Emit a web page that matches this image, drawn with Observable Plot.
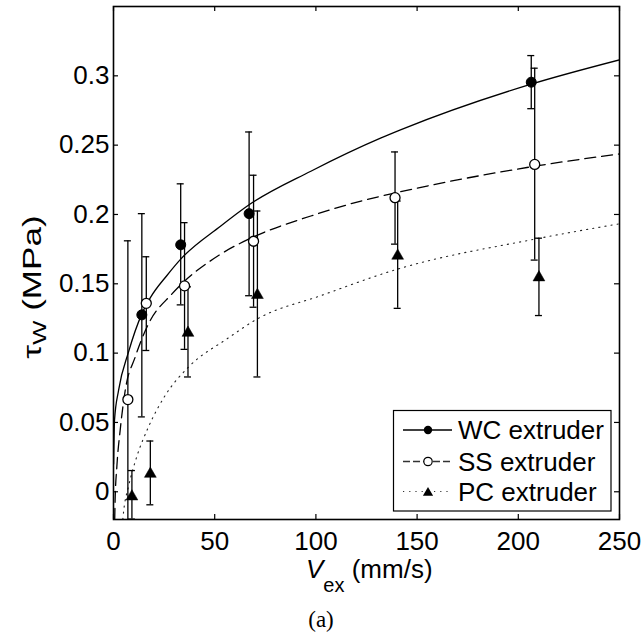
<!DOCTYPE html>
<html>
<head>
<meta charset="utf-8">
<script src="https://cdn.jsdelivr.net/npm/d3@7"></script>
<script src="https://cdn.jsdelivr.net/npm/@observablehq/plot@0.6"></script>
<style>
  html, body { margin: 0; padding: 0; background: #fff; }
  #chart { width: 642px; }
  #caption { width: 642px; height: 35px; line-height: 35px; text-align: center;
    font-family: "Liberation Serif", "DejaVu Serif", serif; font-size: 23px; color: #000; }
</style>
</head>
<body>
<div id="chart"></div>
<div id="caption">(a)</div>
<script>
// ---- data ----
const seriesNames = ["WC extruder", "SS extruder", "PC extruder"];

const wcV    = [14.0, 33.2, 67.0, 206.4];
const wcTau  = [0.1276, 0.1781, 0.2006, 0.2954];
const wcLow  = [0.0540, 0.1348, 0.1414, 0.2763];
const wcHigh = [0.2006, 0.2221, 0.2595, 0.3146];

const ssV    = [7.1, 16.2, 35.1, 69.2, 139.1, 208.1];
const ssTau  = [0.0665, 0.1359, 0.1485, 0.1807, 0.2121, 0.2361];
const ssLow  = [-0.048, 0.1019, 0.1027, 0.1331, 0.1786, 0.1671];
const ssHigh = [0.1810, 0.1695, 0.1941, 0.2283, 0.2451, 0.3055];

const pcV    = [9.1, 18.2, 36.8, 71.1, 140.4, 210.2];
const pcTau  = [-0.0022, 0.0141, 0.1158, 0.1431, 0.1714, 0.1558];
const pcLow  = [-0.0197, -0.0094, 0.0828, 0.0828, 0.1323, 0.1271];
const pcHigh = [0.0153, 0.0366, 0.1478, 0.2025, 0.2097, 0.1829];

// fitted curves, points
const wcFitV   = [0.05, 0.5, 2.5, 7.4, 14.0, 18.3, 26.4, 33.2, 53.0, 67.0, 97.5, 132.2, 142.1, 206.4, 250];
const wcFitTau = [0.020, 0.0517, 0.0732, 0.1007, 0.1283, 0.1402, 0.156, 0.1678, 0.1917, 0.207, 0.2312, 0.2552, 0.2612, 0.294, 0.3115];

const ssFitV   = [0.6, 0.8, 1.65, 3.3, 5.8, 10.7, 17.3, 28.9, 53.0, 69.2, 97.5, 122.3, 139.1, 208.1, 250];
const ssFitTau = [-0.020, -0.006, 0.018, 0.0445, 0.0732, 0.0971, 0.1211, 0.1427, 0.1714, 0.1838, 0.1989, 0.2097, 0.2155, 0.2348, 0.2437];

const pcFitV   = [4.6, 5.0, 7.4, 11.5, 17.3, 25.6, 37.1, 56.1, 71.1, 102.5, 140.4, 208.1, 250];
const pcFitTau = [-0.020, -0.0142, 0.0037, 0.0253, 0.0468, 0.0696, 0.090, 0.1103, 0.1247, 0.1415, 0.1606, 0.1822, 0.1933];

const xTicks = [0, 50, 100, 150, 200, 250];
const yTicks = [0, 0.05, 0.1, 0.15, 0.2, 0.25, 0.3];
const xDomain = [0, 250];
const yDomain = [-0.02, 0.35];

// ---- tables ----
const pts = (V, T, L, H) => V.map((v, i) => ({v, tau: T[i], lo: L[i], hi: H[i]}));
const wc = pts(wcV, wcTau, wcLow, wcHigh);
const ss = pts(ssV, ssTau, ssLow, ssHigh);
const pc = pts(pcV, pcTau, pcLow, pcHigh);
const fit = (V, T) => V.map((v, i) => ({v, tau: T[i]}));
const wcFit = fit(wcFitV, wcFitTau);
const ssFit = fit(ssFitV, ssFitTau);
const pcFit = fit(pcFitV, pcFitTau);

const W = 642, H = 602;
const mT = 6, mL = 113, mR = 23, mB = 83;
const innerW = W - mL - mR, innerH = H - mT - mB;
const FONT = "'Liberation Sans', Arial, Helvetica, sans-serif";
const SW = 1.3;
const DASH = "11,6", DOT = "1.2,5";

const errMarks = (data) => [
  Plot.ruleX(data, {x: "v", y1: "lo", y2: "hi", stroke: "black", strokeWidth: SW, clip: true}),
  Plot.ruleY(data, {y: "hi", x1: "v", x2: "v", insetLeft: -3.5, insetRight: -3.5, stroke: "black", strokeWidth: SW, clip: true}),
  Plot.ruleY(data, {y: "lo", x1: "v", x2: "v", insetLeft: -3.5, insetRight: -3.5, stroke: "black", strokeWidth: SW, clip: true})
];

const plot = Plot.plot({
  width: W, height: H,
  marginTop: mT, marginLeft: mL, marginRight: mR, marginBottom: mB,
  style: {fontFamily: FONT, fontSize: "26px", background: "white", color: "black"},
  x: {domain: xDomain, label: null},
  y: {domain: yDomain, label: null},
  marks: [
    Plot.line(wcFit, {x: "v", y: "tau", curve: "monotone-x", stroke: "black", strokeWidth: SW, clip: true}),
    Plot.line(ssFit, {x: "v", y: "tau", curve: "monotone-x", stroke: "black", strokeWidth: SW, strokeDasharray: DASH, clip: true}),
    Plot.line(pcFit, {x: "v", y: "tau", curve: "monotone-x", stroke: "#222", strokeWidth: 1.1, strokeDasharray: DOT, clip: true}),
    ...errMarks(wc), ...errMarks(ss), ...errMarks(pc),
    Plot.dot(wc, {x: "v", y: "tau", r: 5, fill: "black", stroke: "black", strokeWidth: 1, clip: true}),
    Plot.dot(ss, {x: "v", y: "tau", r: 5, fill: "white", stroke: "black", strokeWidth: 1.3, clip: true}),
    Plot.dot(pc, {x: "v", y: "tau", r: 4.4, symbol: "triangle", fill: "black", stroke: "black", strokeWidth: 0.5, dy: 1.7, clip: true}),
    Plot.tickX(xTicks, {x: d => d, insetTop: innerH - 5, stroke: "black", strokeWidth: 1.2}),
    Plot.tickX(xTicks, {x: d => d, insetBottom: innerH - 5, stroke: "black", strokeWidth: 1.2}),
    Plot.tickY(yTicks, {y: d => d, insetRight: innerW - 5, stroke: "black", strokeWidth: 1.2}),
    Plot.tickY(yTicks, {y: d => d, insetLeft: innerW - 5, stroke: "black", strokeWidth: 1.2}),
    Plot.axisX({ticks: xTicks, tickSize: 0, tickPadding: 12, fontSize: 26, tickFormat: d => String(d), label: null}),
    Plot.axisY({ticks: yTicks, tickSize: 0, tickPadding: 4, fontSize: 26, tickFormat: d => String(d), label: null}),
    Plot.frame({stroke: "black", strokeWidth: 1.6})
  ]
});

document.getElementById("chart").appendChild(plot);
const svg = d3.select(plot);

// x axis label: V_ex (mm/s)
const xl = svg.append("text")
  .attr("x", 306).attr("y", 578).attr("text-anchor", "start")
  .attr("font-family", FONT).attr("font-size", 26).attr("fill", "black");
xl.append("tspan").attr("font-style", "italic").text("V");
xl.append("tspan").attr("font-size", 20).attr("dy", 14).text("ex");
xl.append("tspan").attr("dy", -14).text(" (mm/s)");

// y axis label: τ_W (MPa) (glyphs stretched along the text direction, as in the reference)
const yl = svg.append("text")
  .attr("transform", "translate(41,287) rotate(-90) scale(1.35,1)")
  .attr("text-anchor", "middle")
  .attr("font-family", FONT).attr("font-size", 26).attr("fill", "black");
yl.append("tspan").text("τ");
yl.append("tspan").attr("font-size", 19).attr("dy", 5).text("W");
yl.append("tspan").attr("dy", -5).text(" (MPa)");

// legend
const lg = svg.append("g").attr("text-anchor", "start");
lg.append("rect").attr("x", 393.5).attr("y", 410.5).attr("width", 217.5).attr("height", 100.5)
  .attr("fill", "white").attr("stroke", "black").attr("stroke-width", 1.2);
const rowsY = [430, 461.5, 491.5];
const styles = [
  {dash: null, w: SW, stroke: "black", marker: "fcircle"},
  {dash: "7,3", w: SW, stroke: "#333", marker: "ocircle"},
  {dash: DOT, w: 1.1, stroke: "#333", marker: "tri"}
];
seriesNames.forEach((name, i) => {
  const y = rowsY[i], s = styles[i];
  const ln = lg.append("line").attr("x1", 403).attr("x2", 452).attr("y1", y).attr("y2", y)
    .attr("stroke", s.stroke).attr("stroke-width", s.w);
  if (s.dash) ln.attr("stroke-dasharray", s.dash);
  if (s.marker === "fcircle") lg.append("circle").attr("cx", 428).attr("cy", y).attr("r", 4.2).attr("fill", "black");
  if (s.marker === "ocircle") lg.append("circle").attr("cx", 428).attr("cy", y).attr("r", 4.2).attr("fill", "white").attr("stroke", "black").attr("stroke-width", 1.2);
  if (s.marker === "tri") lg.append("path").attr("transform", `translate(428,${y + 1.4})`)
    .attr("d", d3.symbol(d3.symbolTriangle, 45)()).attr("fill", "black");
  lg.append("text").attr("x", 458).attr("y", y).attr("dy", "0.35em").attr("text-anchor", "start")
    .attr("font-family", FONT).attr("font-size", 26).attr("fill", "black").text(name);
});
</script>
</body>
</html>
